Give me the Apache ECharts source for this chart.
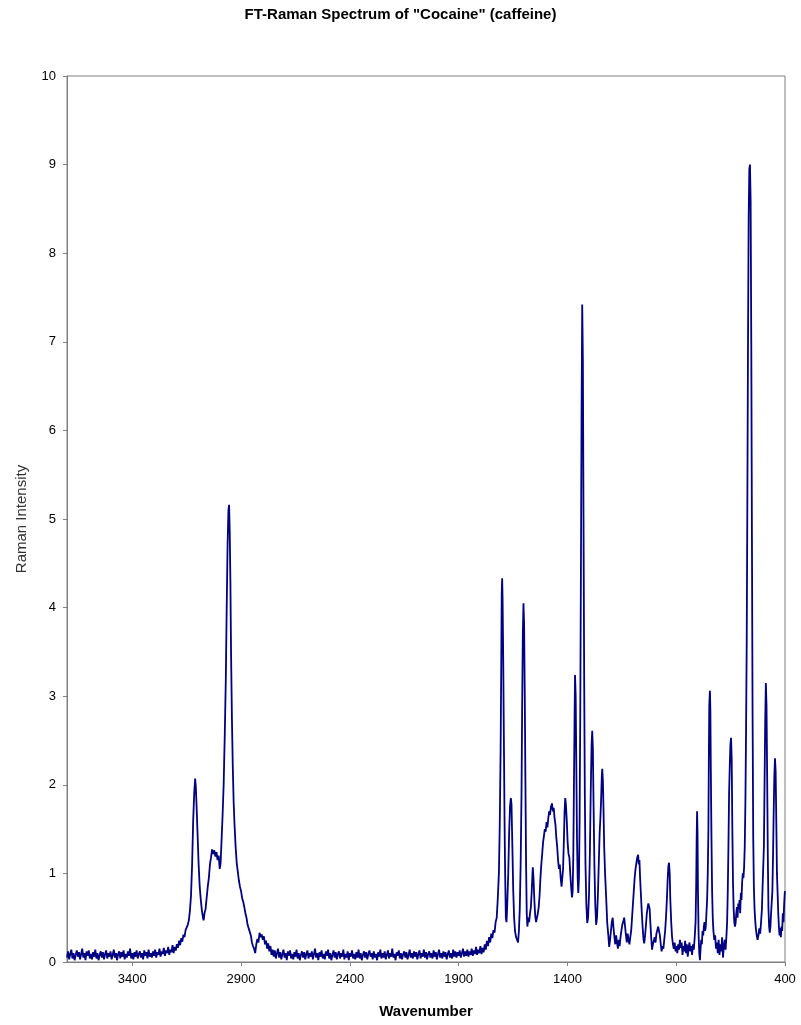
<!DOCTYPE html>
<html>
<head>
<meta charset="utf-8">
<script src="https://cdn.jsdelivr.net/npm/echarts@6/dist/echarts.min.js"></script>
<style>
html,body{margin:0;padding:0;background:#fff;}
#chart{width:801px;height:1025px;}
</style>
</head>
<body>
<div id="chart"></div>
<script>
// ---- Data: [wavenumber (cm-1), Raman intensity] ----
var baselineHigh = [
[3700,.05],[3695,.12],[3690,.03],[3685,.09],[3680,.14],[3675,.04],[3670,.10],[3665,.02],[3660,.08],[3655,.13],
[3650,.06],[3645,.11],[3640,.03],[3635,.09],[3630,.15],[3625,.05],[3620,.10],[3615,.02],[3610,.12],[3605,.07],
[3600,.13],[3595,.04],[3590,.09],[3585,.03],[3580,.11],[3575,.06],[3570,.14],[3565,.04],[3560,.10],[3555,.02],
[3550,.08],[3545,.12],[3540,.05],[3535,.11],[3530,.03],[3525,.09],[3520,.13],[3515,.04],[3510,.10],[3505,.06],
[3500,.12],[3495,.03],[3490,.08],[3485,.14],[3480,.05],[3475,.10],[3470,.02],[3465,.09],[3460,.12],[3455,.04],
[3450,.11],[3445,.06],[3440,.13],[3435,.03],[3430,.09],[3425,.05],[3420,.12],[3415,.07],[3410,.15],[3405,.04],
[3400,.10],[3395,.03],[3390,.11],[3385,.06],[3380,.13],[3375,.04],[3370,.09],[3365,.12],[3360,.05],[3355,.10],
[3350,.03],[3345,.13],[3340,.07],[3335,.11],[3330,.04],[3325,.14],[3320,.06],[3315,.10],[3310,.05],[3305,.12],
[3300,.07],[3295,.14],[3290,.05],[3285,.11],[3280,.08],[3275,.15],[3270,.06],[3265,.12],[3260,.09],[3255,.16],
[3250,.07],[3245,.13],[3240,.10],[3235,.17],[3230,.08],[3225,.14],[3220,.11],[3215,.19],[3210,.10],[3205,.17]
];
var chStretch = [
[3200,0.13],[3195,0.20],[3190,0.16],[3185,0.24],[3180,0.19],[3175,0.27],[3170,0.23],[3165,0.31],[3160,0.28],[3155,0.36],
[3150,0.34],[3145,0.42],[3140,0.47],[3135,0.58],[3130,0.75],[3125,1.10],[3120,1.60],[3115,1.92],[3111,2.07],[3108,1.98],
[3105,1.80],[3100,1.45],[3095,1.10],[3090,0.85],[3085,0.70],[3080,0.58],[3075,0.50],[3072,0.47],[3068,0.55],[3063,0.60],
[3058,0.73],[3053,0.85],[3048,0.95],[3043,1.10],[3038,1.18],[3033,1.27],[3028,1.22],[3023,1.26],[3018,1.19],[3013,1.24],
[3008,1.15],[3003,1.20],[2998,1.05],[2994,1.12],[2990,1.35],[2985,1.65],[2980,2.00],[2975,2.55],[2970,3.20],[2966,4.00],
[2962,4.70],[2958,5.10],[2955,5.16],[2952,4.85],[2949,4.30],[2946,3.50],[2942,2.75],[2938,2.20],[2934,1.80],[2930,1.55],
[2925,1.30],[2920,1.12],[2915,1.02],[2910,0.92],[2905,0.85],[2900,0.80],[2895,0.72],[2890,0.68],[2885,0.62],[2880,0.55],
[2875,0.50],[2870,0.42],[2865,0.40],[2860,0.34],[2855,0.30],[2850,0.22],[2845,0.18],[2840,0.15],[2835,0.10],[2830,0.20],
[2825,0.26],[2820,0.22],[2815,0.33],[2810,0.28],[2805,0.31],[2800,0.25],[2795,0.29],[2790,0.20],[2785,0.24],[2780,0.15],
[2775,0.21],[2770,0.12],[2765,0.18],[2760,0.08],[2755,0.14]
];
var baselineMid = [
[2750,.06],[2745,.13],[2740,.04],[2735,.10],[2730,.15],[2725,.05],[2720,.11],[2715,.03],[2710,.09],[2705,.14],
[2700,.05],[2695,.10],[2690,.02],[2685,.12],[2680,.07],[2675,.13],[2670,.04],[2665,.09],[2660,.03],[2655,.11],
[2650,.06],[2645,.14],[2640,.04],[2635,.10],[2630,.02],[2625,.08],[2620,.12],[2615,.05],[2610,.11],[2605,.03],
[2600,.09],[2595,.13],[2590,.04],[2585,.10],[2580,.06],[2575,.12],[2570,.03],[2565,.09],[2560,.15],[2555,.05],
[2550,.10],[2545,.02],[2540,.11],[2535,.06],[2530,.13],[2525,.04],[2520,.09],[2515,.03],[2510,.12],[2505,.07],
[2500,.14],[2495,.04],[2490,.10],[2485,.02],[2480,.08],[2475,.13],[2470,.05],[2465,.11],[2460,.03],[2455,.09],
[2450,.12],[2445,.04],[2440,.10],[2435,.06],[2430,.14],[2425,.03],[2420,.09],[2415,.05],[2410,.12],[2405,.02],
[2400,.10],[2395,.06],[2390,.13],[2385,.04],[2380,.09],[2375,.03],[2370,.11],[2365,.05],[2360,.14],[2355,.04],
[2350,.10],[2345,.02],[2340,.08],[2335,.12],[2330,.05],[2325,.11],[2320,.03],[2315,.09],[2310,.13],[2305,.06],
[2300,.10],[2295,.03],[2290,.12],[2285,.05],[2280,.09],[2275,.02],[2270,.11],[2265,.06],[2260,.14],[2255,.04],
[2250,.10],[2245,.05],[2240,.12],[2235,.03],[2230,.08],[2225,.13],[2220,.04],[2215,.10],[2210,.06],[2205,.15],
[2200,.05],[2195,.09],[2190,.02],[2185,.11],[2180,.07],[2175,.13],[2170,.04],[2165,.10],[2160,.03],[2155,.09],
[2150,.12],[2145,.05],[2140,.11],[2135,.03],[2130,.08],[2125,.14],[2120,.05],[2115,.10],[2110,.04],[2105,.12],
[2100,.06],[2095,.11],[2090,.03],[2085,.09],[2080,.13],[2075,.04],[2070,.10],[2065,.06],[2060,.14],[2055,.05],
[2050,.11],[2045,.03],[2040,.09],[2035,.12],[2030,.05],[2025,.10],[2020,.04],[2015,.13],[2010,.06],[2005,.11],
[2000,.03],[1995,.09],[1990,.14],[1985,.05],[1980,.10],[1975,.04],[1970,.12],[1965,.06],[1960,.11],[1955,.03],
[1950,.09],[1945,.13],[1940,.05],[1935,.10],[1930,.04],[1925,.14],[1920,.06],[1915,.12],[1910,.05],[1905,.11],
[1900,.07],[1895,.13],[1890,.05],[1885,.10],[1880,.15],[1875,.06],[1870,.12],[1865,.07],[1860,.14],[1855,.06],
[1850,.12],[1845,.08],[1840,.15],[1835,.07],[1830,.13],[1825,.09],[1820,.17],[1815,.08],[1810,.14],[1805,.10],
[1800,.18],[1795,.09],[1790,.16],[1785,.11],[1780,.20]
];
var carbonylRegion = [
[1775,0.14],[1770,0.24],[1765,0.18],[1760,0.28],[1755,0.22],[1750,0.32],[1745,0.27],[1740,0.36],[1735,0.33],[1730,0.45],
[1725,0.50],[1720,0.72],[1715,1.00],[1711,1.55],[1707,2.40],[1704,3.40],[1702,4.15],[1700,4.33],[1698,4.10],[1695,3.40],
[1692,2.50],[1689,1.60],[1686,0.95],[1683,0.50],[1680,0.45],[1677,0.62],[1672,1.00],[1668,1.45],[1664,1.75],[1660,1.85],
[1657,1.78],[1653,1.30],[1649,0.80],[1645,0.50],[1641,0.35],[1636,0.28],[1631,0.25],[1627,0.22],[1623,0.35],[1619,0.60],
[1615,1.10],[1611,1.90],[1608,2.90],[1605,3.70],[1602,4.05],[1599,3.80],[1596,3.00],[1593,2.00],[1590,1.10],[1587,0.55],
[1584,0.40],[1580,0.50],[1576,0.45],[1572,0.55],[1568,0.62],[1564,0.80],[1561,0.98],[1559,1.07],[1556,0.95],[1552,0.70],
[1548,0.52],[1544,0.45],[1540,0.44],[1536,0.55],[1532,0.62],[1528,0.75],[1524,0.95],[1520,1.10],[1516,1.22],[1512,1.35],
[1508,1.42],[1504,1.50],[1500,1.47],[1496,1.58],[1492,1.52],[1488,1.62],[1484,1.70],[1480,1.66],[1476,1.75],[1471,1.79],
[1467,1.70],[1463,1.74],[1459,1.62],[1455,1.55],[1451,1.40],[1447,1.30],[1443,1.15],[1439,1.05],[1435,1.10],[1431,0.95],
[1427,0.85],[1423,0.87],[1420,1.05],[1416,1.40],[1413,1.70],[1410,1.85],[1407,1.78],[1403,1.60],[1399,1.35],[1395,1.22],
[1391,1.18],[1387,1.00],[1383,0.85],[1379,0.73],[1376,0.80],[1373,1.20],[1370,2.00],[1367,2.80],[1365,3.24],[1362,3.00],
[1359,2.20],[1356,1.40],[1353,0.95],[1350,0.78],[1347,0.95],[1344,1.60],[1341,2.80],[1338,4.40],[1335,6.20],[1332,7.42],
[1329,6.80],[1326,5.00],[1323,3.20],[1320,1.90],[1317,1.10],[1313,0.65],[1309,0.44],[1305,0.50],[1301,0.75],[1297,1.20],
[1293,1.90],[1289,2.45],[1286,2.61],[1283,2.40],[1280,1.80],[1276,1.10],[1272,0.65],[1268,0.42],[1264,0.50],[1260,0.75],
[1256,1.10],[1252,1.45],[1248,1.65],[1245,1.85],[1242,2.10],[1240,2.18],[1237,2.05],[1234,1.70],[1231,1.30],[1227,1.00],
[1222,0.73],[1217,0.44],[1212,0.30],[1208,0.17]
];
var fingerprintRegion = [
[1204,0.25],[1200,0.35],[1196,0.45],[1192,0.50],[1188,0.38],[1184,0.28],[1180,0.20],[1176,0.30],[1172,0.22],[1168,0.15],
[1164,0.25],[1160,0.18],[1156,0.28],[1152,0.35],[1148,0.42],[1144,0.45],[1139,0.50],[1135,0.40],[1131,0.30],[1127,0.22],
[1123,0.32],[1119,0.25],[1115,0.20],[1111,0.28],[1107,0.35],[1103,0.50],[1099,0.65],[1095,0.80],[1091,0.95],[1087,1.05],
[1083,1.12],[1079,1.18],[1075,1.21],[1072,1.10],[1069,1.15],[1066,0.95],[1062,0.75],[1058,0.55],[1054,0.38],[1050,0.25],
[1047,0.21],[1043,0.30],[1039,0.42],[1035,0.55],[1031,0.62],[1028,0.66],[1025,0.68],[1022,0.60],[1019,0.45],[1015,0.28],
[1011,0.14],[1007,0.20],[1003,0.18],[999,0.28],[995,0.22],[991,0.32],[987,0.36],[983,0.40],[979,0.42],[975,0.30],
[971,0.20],[967,0.12],[963,0.18],[959,0.15],[955,0.25],[951,0.35],[947,0.50],[943,0.70],[939,0.95],[936,1.08],
[933,1.12],[930,1.00],[927,0.70],[923,0.45],[919,0.28],[915,0.20],[911,0.15],[907,0.22],[903,0.12],[899,0.18],
[895,0.10],[891,0.20],[887,0.14],[883,0.25],[879,0.16],[875,0.22],[871,0.08],[867,0.18],[863,0.12],[859,0.24],
[855,0.10],[851,0.20],[847,0.06],[843,0.16],[839,0.22],[835,0.12],[831,0.18],[827,0.08],[823,0.20],[819,0.14],
[815,0.28],[811,0.45],[808,0.90],[806,1.40],[804,1.70],[802,1.45],[800,0.80],[797,0.30],[794,0.10],[791,0.02],
[788,0.15],[785,0.25],[782,0.20],[779,0.35],[776,0.30],[773,0.40],[770,0.45],[767,0.35],[764,0.40],[761,0.55],
[758,0.70],[755,1.00],[752,1.50],[750,2.30],[748,2.90],[745,3.06],[743,2.85],[741,2.20],[738,1.40],[735,0.80],
[732,0.50],[729,0.35],[725,0.25],[721,0.30],[717,0.15],[713,0.22],[709,0.10],[705,0.25],[701,0.08],[697,0.20],
[693,0.12],[689,0.28],[685,0.05],[681,0.18],[677,0.25],[673,0.14],[669,0.30],[666,0.45],[663,0.80],[660,1.30],
[657,1.90],[654,2.20],[651,2.45],[648,2.53],[645,2.30],[642,1.50],[639,0.90],[636,0.60],[633,0.45],[630,0.40],
[627,0.44],[624,0.55],[621,0.62],[618,0.50],[615,0.66],[612,0.60],[609,0.70],[606,0.55],[603,0.78],[600,0.70],
[597,0.90],[594,1.00],[591,0.95],[588,1.07],[585,1.30],[582,1.80],[579,2.60],[576,3.60],[573,5.20],[570,7.00],
[567,8.40],[564,8.95],[561,9.00],[558,8.60],[555,7.00],[552,4.80],[549,2.80],[546,1.40],[543,0.85],[540,0.60],
[537,0.47],[534,0.38],[530,0.30],[526,0.25],[522,0.30],[518,0.38],[514,0.32],[510,0.45],[506,0.60],[503,0.85],
[500,0.85],[497,1.30],[494,2.00],[491,2.70],[488,3.15],[485,2.90],[482,2.10],[479,1.20],[476,0.60],[473,0.40],
[470,0.33],[467,0.40],[464,0.55],[461,0.55],[458,0.80],[455,1.20],[452,1.70],[449,2.10],[446,2.30],[443,2.15],
[440,1.60],[437,1.00],[434,0.78],[431,0.55],[428,0.40],[425,0.30],[422,0.38],[419,0.28],[416,0.40],[413,0.35],
[410,0.55],[407,0.45],[404,0.65],[401,0.78],[400,0.80]
];
var xTickValues = [400, 900, 1400, 1900, 2400, 2900, 3400];

var spectrum = baselineHigh.concat(chStretch, baselineMid, carbonylRegion, fingerprintRegion);

var FONT = 'Liberation Sans, Arial, sans-serif';
var chart = echarts.init(document.getElementById('chart'), null, {renderer: 'canvas'});
chart.setOption({
  animation: false,
  backgroundColor: '#ffffff',
  title: {
    text: 'FT-Raman Spectrum of "Cocaine" (caffeine)',
    left: 'center',
    top: 2,
    textStyle: {fontFamily: FONT, fontSize: 15, fontWeight: 'bold', color: '#000'}
  },
  grid: {
    left: 67, right: 16, top: 76, bottom: 63,
    show: true, borderColor: '#808080', borderWidth: 1, backgroundColor: 'transparent'
  },
  xAxis: {
    type: 'value',
    inverse: true,
    min: 400,
    max: 3700,
    name: 'Wavenumber',
    nameLocation: 'middle',
    nameGap: 42,
    nameTextStyle: {fontFamily: FONT, fontSize: 15, fontWeight: 'bold', color: '#000'},
    axisLine: {show: true, onZero: false, lineStyle: {color: '#808080', width: 1}},
    axisTick: {show: true, inside: false, length: 4, customValues: xTickValues, lineStyle: {color: '#808080'}},
    axisLabel: {
      customValues: xTickValues, margin: 11, fontFamily: FONT, fontSize: 13, color: '#000',
      formatter: function (v) { return String(v); }
    },
    splitLine: {show: false}
  },
  yAxis: {
    type: 'value',
    min: 0,
    max: 10,
    interval: 1,
    name: 'Raman Intensity',
    nameLocation: 'middle',
    nameGap: 38,
    nameTextStyle: {fontFamily: FONT, fontSize: 15, color: '#333'},
    axisLine: {show: true, lineStyle: {color: '#808080', width: 1}},
    axisTick: {show: true, inside: false, length: 4, lineStyle: {color: '#808080'}},
    axisLabel: {margin: 11, fontFamily: FONT, fontSize: 13, color: '#000'},
    splitLine: {show: false}
  },
  series: [{
    type: 'line',
    data: spectrum,
    showSymbol: false,
    symbol: 'none',
    sampling: false,
    lineStyle: {color: '#000080', width: 1.8},
    itemStyle: {color: '#000080'}
  }]
});
</script>
</body>
</html>
